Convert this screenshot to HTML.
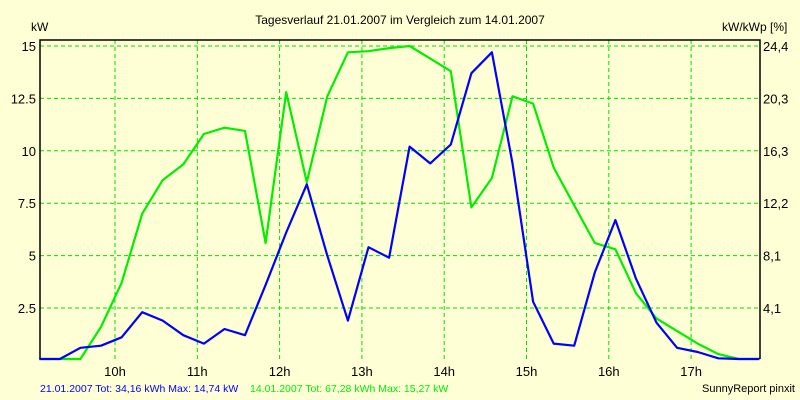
<!DOCTYPE html>
<html><head><meta charset="utf-8"><style>
body{margin:0;background:#ffffd6;}
svg{display:block;font-family:"Liberation Sans",sans-serif;}
</style></head><body>
<svg id="c" width="800" height="400">
<rect width="800" height="400" fill="#ffffd6"/>
<text x="400" y="24" font-size="12" text-anchor="middle">Tagesverlauf 21.01.2007 im Vergleich zum 14.01.2007</text>
<text x="31" y="31" font-size="12">kW</text>
<text x="722" y="31" font-size="12">kW/kWp [%]</text>
<g id="grid"></g><g id="series"></g><g id="axes"></g>
<text x="40" y="392" font-size="10.5" fill="#0000ff">21.01.2007 Tot: 34,16 kWh Max: 14,74 kW</text>
<text x="250" y="392" font-size="10.5" fill="#00ee00">14.01.2007 Tot: 67,28 kWh Max: 15,27 kW</text>
<text x="795" y="392" font-size="11" text-anchor="end">SunnyReport pinxit</text>
</svg>
<script>
const blueVals=[0,0,0.6,0.7,1.1,2.3,1.9,1.2,0.8,1.5,1.2,3.6,6.1,8.4,5.0,1.9,5.4,4.9,10.2,9.4,10.3,13.7,14.7,9.4,2.8,0.8,0.7,4.2,6.7,3.9,1.8,0.6,0.4,0.1,0,0];
const greenVals=[0,0,0,1.6,3.7,7.0,8.6,9.35,10.8,11.1,10.95,5.6,12.8,8.5,12.6,14.7,14.75,14.9,15.0,14.4,13.8,7.3,8.7,12.6,12.25,9.2,7.4,5.6,5.3,3.2,2.0,1.4,0.8,0.3,0.05,0];
const startHour=9.08, stepHour=0.25;
const leftTicks=[2.5,5,7.5,10,12.5,15];
const leftLabels=["2.5","5","7.5","10","12.5","15"];
const rightLabels=["4,1","8,1","12,2","16,3","20,3","24,4"];
const hourTicks=[10,11,12,13,14,15,16,17];
const L=40,R=760,T=40,B=359;
const xs=h=>115+(h-10)*82.3;
const ys=v=>Math.min(B,360.4-v*20.96);
const NS="http://www.w3.org/2000/svg";
function mk(tag,attrs,parent){const e=document.createElementNS(NS,tag);for(const k in attrs)e.setAttribute(k,attrs[k]);parent.appendChild(e);return e;}
const grid=document.getElementById('grid'),axes=document.getElementById('axes'),ser=document.getElementById('series');
leftTicks.forEach((v,i)=>{
 const y=ys(v);
 const g=mk('line',{x1:L,x2:R,y1:y,y2:y,stroke:'#00e000','stroke-dasharray':'4,3'},grid);
 
 
 const t=mk('text',{x:L-4,y:y+5,'font-size':13,'text-anchor':'end'},axes);t.textContent=leftLabels[i];
 
 
 const t2=mk('text',{x:R+3,y:y+5,'font-size':13},axes);t2.textContent=rightLabels[i];
 
 
});
hourTicks.forEach(h=>{
 const x=xs(h);
 const g=mk('line',{x1:x,x2:x,y1:T,y2:B,stroke:'#00e000','stroke-dasharray':'4,3'},grid);
 
 
 const t=mk('text',{x:x,y:376,'font-size':13,'text-anchor':'middle'},axes);t.textContent=h+'h';
 
 
});
const frame=mk('path',{d:`M${L},${B}V${T}H${R}V${B}`,fill:'none',stroke:'#000','stroke-width':1.5},axes);


function line(vals,color,name){
 const pts=vals.map((v,i)=>xs(startHour+i*stepHour).toFixed(1)+','+ys(v).toFixed(1)).join(' ');
 const p=mk('polyline',{points:pts,fill:'none',stroke:color,'stroke-width':2.2,'stroke-linejoin':'round'},ser);
 
 
}
line(greenVals,'#00ee00','series-14-01-2007');
line(blueVals,'#0000ff','series-21-01-2007');
</script>
</body></html>
